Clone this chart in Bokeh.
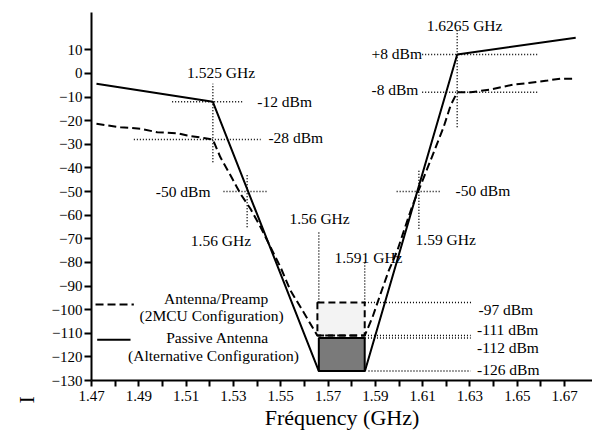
from bokeh.plotting import figure
from bokeh.models import FixedTicker, Label, Title
from bokeh.embed import file_html
from bokeh.resources import INLINE

FONT = "Liberation Serif"

# Axis ticks
x_tick_labels = ["1.47", "1.49", "1.51", "1.53", "1.55", "1.57", "1.59",
                 "1.61", "1.63", "1.65", "1.67"]
x_minor_ticks = [1.48, 1.50, 1.52, 1.54, 1.56, 1.58, 1.60, 1.62, 1.64, 1.66]
y_ticks = [10, 0, -10, -20, -30, -40, -50, -60, -70, -80, -90, -100, -110, -120, -130]

# Passive antenna (alternative configuration) response
passive_freq = [1.4721, 1.5213, 1.5661, 1.5856, 1.6246, 1.6747]
passive_dbm = [-4.4, -12, -126, -126, 8, 15.1]

# Antenna/preamp (2MCU configuration) response
preamp_freq = [1.4721, 1.4823, 1.4907, 1.4978, 1.5062, 1.5105, 1.5174, 1.5213,
               1.5245, 1.5288, 1.5330, 1.5372, 1.5415, 1.5457, 1.5499, 1.5541,
               1.5584, 1.5655, 1.5855, 1.5888, 1.5922, 1.5957, 1.5993, 1.6021,
               1.6057, 1.6091, 1.6133, 1.6188, 1.6218, 1.6246, 1.6303, 1.6387,
               1.6484, 1.6541, 1.6628, 1.6683, 1.6747]
preamp_dbm = [-21.3, -22.8, -23.4, -24.9, -25.3, -26.3, -27.3, -28,
              -35.5, -43.2, -51.0, -57.3, -65.1, -73.6, -82.0, -91.9,
              -99.0, -111, -111, -103.2, -93.3, -83.4, -75.0, -66.5,
              -55.9, -47.5, -36.9, -22.9, -13.6, -8, -8, -6.8,
              -4.7, -4.1, -3.0, -2.2, -2.2]

# Passband levels
preamp_band = (1.5655, 1.5855, -111, -97)
passive_band = (1.5661, 1.5855, -126, -112)

# Marked corner frequencies and levels
corner_freq = [1.5213, 1.5358, 1.5661, 1.5855, 1.6084, 1.6246]
corner_text = ["1.525 GHz", "1.56 GHz", "1.56 GHz", "1.591 GHz", "1.59 GHz", "1.6265 GHz"]
level_dbm = [-12, -28, -50, -50, 8, -8, -97, -111, -112, -126]
level_text = ["-12 dBm", "-28 dBm", "-50 dBm", "-50 dBm", "+8 dBm", "-8 dBm",
              "-97 dBm", "-111 dBm", "-112 dBm", "-126 dBm"]

p = figure(width=592, height=432, x_range=(1.47, 1.6818), y_range=(-130, 25.8),
           output_backend="svg", toolbar_location=None,
           min_border_left=91, min_border_right=0, min_border_top=12,
           min_border_bottom=52)
p.xgrid.visible = False
p.ygrid.visible = False
p.outline_line_color = None
p.background_fill_color = "white"
p.border_fill_color = "white"

x_major = [float(s) for s in x_tick_labels]
p.xaxis.ticker = FixedTicker(ticks=x_major, minor_ticks=x_minor_ticks)
p.xaxis.major_label_overrides = {float(s): s for s in x_tick_labels}
p.yaxis.ticker = FixedTicker(ticks=y_ticks, minor_ticks=[])
for ax in (p.xaxis[0], p.yaxis[0]):
    ax.axis_line_width = 2
    ax.axis_line_color = "black"
    ax.major_tick_line_width = 2
    ax.minor_tick_line_width = 2
    ax.major_tick_in = 0
    ax.minor_tick_in = 0
    ax.major_label_text_font = FONT
    ax.major_label_text_font_size = "15px"
    ax.major_label_text_color = "black"
p.xaxis.major_tick_out = 6
p.xaxis.minor_tick_out = 6
p.xaxis.major_label_standoff = 4
p.yaxis.major_tick_out = 7
p.yaxis.minor_tick_out = 0
p.yaxis.major_label_standoff = 2

p.xaxis.axis_label = "Fréquency (GHz)"
p.xaxis.axis_label_text_font = FONT
p.xaxis.axis_label_text_font_style = "normal"
p.xaxis.axis_label_text_font_size = "22px"
p.xaxis.axis_label_text_color = "black"
p.xaxis.axis_label_standoff = 1

p.add_layout(Title(text="I", align="left", offset=-23, standoff=20,
                   text_font=FONT, text_font_size="22px",
                   text_font_style="normal", text_color="black"), "left")

DOT = "1 2"

# Passband boxes
x0, x1, lo, hi = preamp_band
p.quad(left=[x0], right=[x1], bottom=[lo], top=[hi], fill_color="#f3f3f3",
       line_color="black", line_width=2, line_dash="7 4")
x0, x1, lo, hi = passive_band
p.quad(left=[x0], right=[x1], bottom=[lo], top=[hi], fill_color="#7a7a7a",
       line_color="black", line_width=2)

# Vertical guides at the marked frequencies
v_lo = [-37.6, -65.1, -97, -97, -65.8, -22.8]
v_hi = [-4.4, -42.4, -66.5, -79.9, -41.1, 18.2]
p.segment(x0=corner_freq, y0=v_lo, x1=corner_freq, y1=v_hi,
          line_color="black", line_width=1.5, line_dash=DOT)

# Horizontal guides at the marked levels
h_from = [1.5041, 1.4879, 1.5258, 1.5990, 1.6098, 1.6098, 1.5856, 1.5856, 1.5856, 1.5871]
h_to = [1.5344, 1.5415, 1.5448, 1.6176, 1.6591, 1.6591, 1.6310, 1.6303, 1.6303, 1.6303]
p.segment(x0=h_from, y0=level_dbm, x1=h_to, y1=level_dbm,
          line_color="black", line_width=1.5, line_dash=DOT)

# Response curves
p.line(preamp_freq, preamp_dbm, line_color="black", line_width=2, line_dash="8 4")
p.line(passive_freq, passive_dbm, line_color="black", line_width=2)

# Legend samples
p.line([1.4717, 1.4879], [-97.8, -97.8], line_color="black", line_width=2, line_dash="8 4")
p.line([1.4724, 1.4865], [-112.8, -112.8], line_color="black", line_width=2)


def label(x, y, text, align="left"):
    p.add_layout(Label(x=x, y=y, text=text, text_font=FONT, text_font_size="15.5px",
                       text_align=align, text_baseline="middle", text_color="black"))


# Frequency labels
label(1.5248, 0.5, corner_text[0], "center")
label(1.5247, -70.7, corner_text[1], "center")
label(1.5664, -61.5, corner_text[2], "center")
label(1.5871, -78.1, corner_text[3], "center")
label(1.6070, -70.4, corner_text[4], "left")
label(1.6277, 20.3, corner_text[5], "center")

# Level labels
label(1.5401, -11.9, level_text[0])
label(1.5448, -27.1, level_text[1])
label(1.5203, -50.0, level_text[2], "right")
label(1.6239, -49.6, level_text[3])
label(1.6097, 8.3, level_text[4], "right")
label(1.6082, -6.9, level_text[5], "right")
label(1.6336, -100.1, level_text[6])
label(1.6330, -108.5, level_text[7])
label(1.6330, -115.9, level_text[8])
label(1.6330, -125.5, level_text[9])

# Legend texts
label(1.5227, -95.4, "Antenna/Preamp", "center")
label(1.5208, -102.5, "(2MCU Configuration)", "center")
label(1.5233, -111.7, "Passive Antenna", "center")
label(1.5216, -119.4, "(Alternative Configuration)", "center")

open("out.html", "w").write(file_html(p, INLINE))
